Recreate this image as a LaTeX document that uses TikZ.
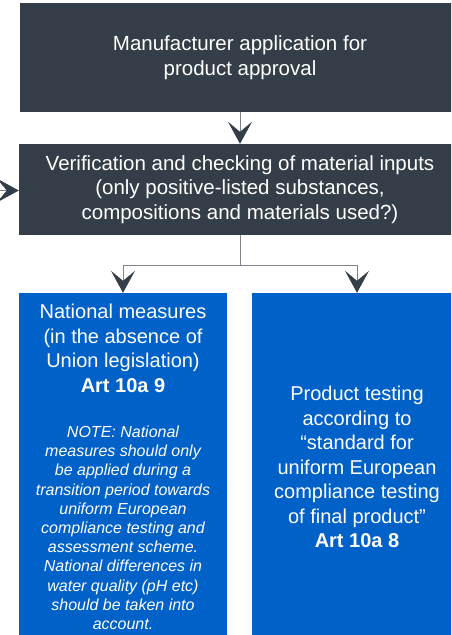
\documentclass[tikz,border=0pt]{standalone}
\usepackage{fontspec}
\setmainfont{Liberation Sans}
\usetikzlibrary{arrows.meta}

\definecolor{slate}{RGB}{52,62,72}
\definecolor{eublue}{RGB}{0,97,200}
\definecolor{wire}{RGB}{125,132,140}

\tikzset{
	darkbox/.style={fill=slate, text=white, inner sep=0pt, align=center, font=\fontsize{20.5}{24.5}\selectfont},
	bluebox/.style={fill=eublue, text=white, inner sep=0pt, align=flush center, font=\fontsize{20}{24.5}\selectfont\frenchspacing},
	flow/.style={draw=wire, line width=1pt, -{Stealth[length=22pt, width=24pt, inset=10pt, color=slate]}}
}

\begin{document}
\begin{tikzpicture}[x=1pt, y=-1pt]
	%\draw[help lines] (0,0) grid[step=50] (451,635);
	\useasboundingbox (0,0) rectangle (451,635);
	\clip (0,0) rectangle (451,635);
	
	\node[darkbox, minimum width=440, minimum height=109] (apply) at (240,57.5)
		{Manufacturer application for\\product approval};
	
	\node[darkbox, minimum width=442, minimum height=91] (verify) at (240,189.5)
		{Verification and checking of material inputs\\(only positive-listed substances,\\compositions and materials used?)};
	
	\node[bluebox, text width=208, minimum height=348] (national) at (123,467)
		{National measures\\(in the absence of\\Union legislation)\\\textbf{Art 10a 9}\par\vspace{26pt}
		{\fontsize{16}{19.2}\selectfont\itshape NOTE: National\\measures should only\\be applied during a\\transition period towards\\uniform European\\compliance testing and\\assessment scheme.\\National differences in\\water quality (pH etc)\\should be taken into\\account.\par}};
	
	\node[bluebox, text width=210, minimum height=348] (testing) at (357,467)
		{Product testing\\according to\\“standard for\\uniform European\\compliance testing\\of final product”\\\textbf{Art 10a 8}};
	
	\coordinate (feed) at (-30,190.5);
	\coordinate (split) at (240,265);
	
	\draw[flow] (apply.south) -- (verify.north);
	\draw[flow] (feed) -- (feed -| verify.west);
	\draw[wire, line width=1pt] (verify.south) -- (split);
	\foreach \b in {national, testing}
	\draw[flow] (split) -| (\b.north);
\end{tikzpicture}
\end{document}
